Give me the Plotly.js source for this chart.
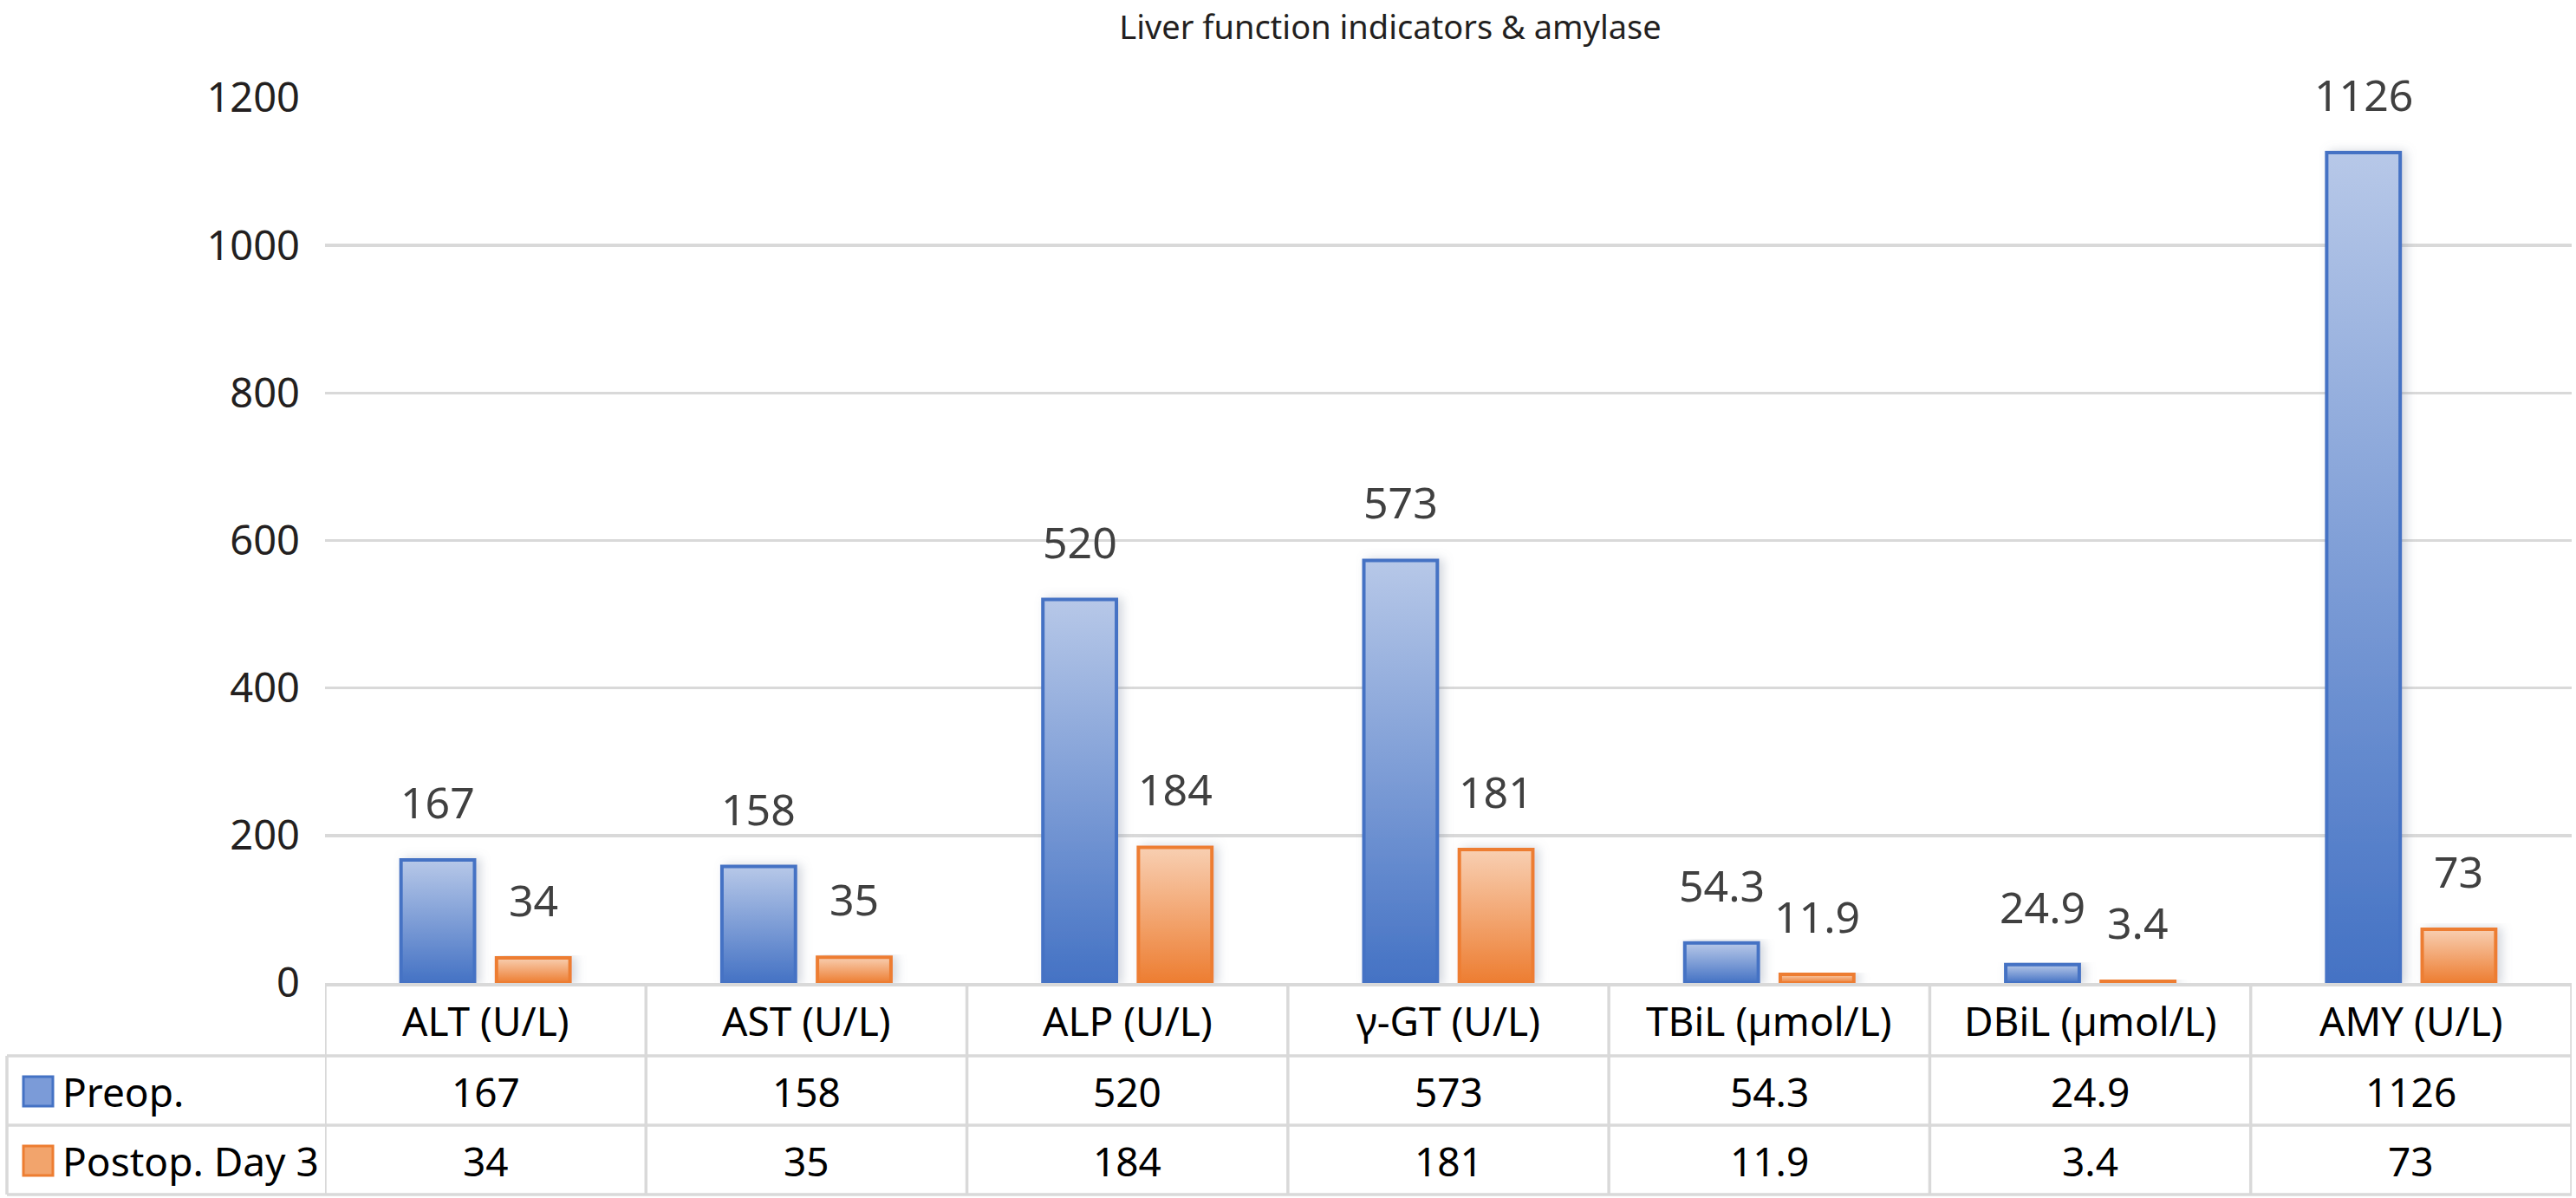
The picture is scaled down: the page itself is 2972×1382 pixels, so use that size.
<!DOCTYPE html>
<html><head><meta charset="utf-8">
<script src="https://cdn.plot.ly/plotly-3.0.1.min.js"></script>
<style>html,body{margin:0;padding:0;background:#fff;}#chart{width:2972px;height:1382px;}</style>
</head><body><div id="chart"></div>
<script>
// ---- data ----
const categories = ['ALT (U/L)', 'AST (U/L)', 'ALP (U/L)', 'γ-GT (U/L)', 'TBiL (µmol/L)', 'DBiL (µmol/L)', 'AMY (U/L)'];
const seriesNames = ['Preop.', 'Postop. Day 3'];
const preop = [167, 158, 520, 573, 54.3, 24.9, 1126];
const postop = [34, 35, 184, 181, 11.9, 3.4, 73];
const yTicks = [0, 200, 400, 600, 800, 1000, 1200];
const chartTitle = 'Liver function indicators & amylase';

// ---- layout geometry (pixels) ----
const W = 2972, H = 1382;
const L = 375, R = 5, T = 113, B = 248;
const plotW = W - L - R, plotH = H - T - B;
const FONT = 'Tahoma, "Noto Sans", "DejaVu Sans", sans-serif';
const GRID = '#d9d9d9';
function py(p) { return (H - B - p) / plotH; }   // pixel y -> paper y
function pxp(p) { return (p - L) / plotW; }      // pixel x -> paper x
const rowLines = [1218, 1298, 1378];
const rowCenters = [1177, 1259, 1339];
const tableLeft = 8;
const seriesValues = [preop, postop];
const colors = [
  { line: '#4472c4', top: '#b7c8e8', bottom: '#4472c4', mid: '#7b9bd8' },
  { line: '#ed7d31', top: '#f8cfb2', bottom: '#ed7d31', mid: '#f2a46c' }
];

const data = seriesValues.map((vals, s) => ({
  type: 'bar',
  name: seriesNames[s],
  x: categories,
  y: vals,
  marker: { color: colors[s].mid, line: { color: colors[s].line, width: 4 } },
  hoverinfo: 'skip',
  showlegend: false
}));

const shapes = [];
const annotations = [];
const lineStyle = { color: GRID, width: 3.5 };

// horizontal table lines
rowLines.forEach(r => shapes.push({ type: 'line', xref: 'paper', yref: 'paper', x0: pxp(tableLeft), x1: 1, y0: py(r), y1: py(r), line: lineStyle, layer: 'above' }));
// left outer border (legend column, lower two rows)
shapes.push({ type: 'line', xref: 'paper', yref: 'paper', x0: pxp(tableLeft), x1: pxp(tableLeft), y0: py(rowLines[0]), y1: py(rowLines[2]), line: lineStyle });
// vertical column borders
for (let i = 0; i <= categories.length; i++) {
  shapes.push({ type: 'line', xref: 'x', yref: 'paper', x0: i - 0.5, x1: i - 0.5, y0: 0, y1: py(rowLines[2]), line: lineStyle });
}
// legend keys
seriesNames.forEach((n, s) => {
  const c = rowCenters[s + 1];
  shapes.push({ type: 'rect', xref: 'paper', yref: 'paper', x0: pxp(27), x1: pxp(61), y0: py(c - 17), y1: py(c + 17),
    fillcolor: colors[s].mid, line: { color: colors[s].line, width: 3 } });
  annotations.push({ xref: 'paper', yref: 'paper', x: pxp(70), y: py(c), xanchor: 'left', yanchor: 'middle', showarrow: false,
    text: n, font: { family: FONT, size: 46, color: '#000' } });
});
// category row + value rows
categories.forEach((c, i) => {
  annotations.push({ xref: 'x', yref: 'paper', x: c, y: py(rowCenters[0]), xanchor: 'center', yanchor: 'middle', showarrow: false,
    text: c, font: { family: FONT, size: 46, color: '#000' } });
  seriesValues.forEach((vals, s) => {
    annotations.push({ xref: 'x', yref: 'paper', x: c, y: py(rowCenters[s + 1]), xanchor: 'center', yanchor: 'middle', showarrow: false,
      text: String(vals[i]), font: { family: FONT, size: 46, color: '#000' } });
  });
});
// data labels above bars
const slotHalf = (1 - 0.405) * (plotW / categories.length) / 4;
seriesValues.forEach((vals, s) => {
  vals.forEach((v, i) => {
    annotations.push({ xref: 'x', yref: 'y', x: categories[i], y: v, xshift: s === 0 ? -slotHalf : slotHalf, yshift: 67,
      xanchor: 'center', yanchor: 'middle', showarrow: false, text: String(v),
      font: { family: FONT, size: 50, color: '#404040' } });
  });
});

const layout = {
  width: W, height: H,
  margin: { l: L, r: R, t: T, b: B },
  paper_bgcolor: '#fff', plot_bgcolor: '#fff',
  barmode: 'group', bargap: 0.405, bargroupgap: 0.23,
  title: { text: chartTitle, font: { family: FONT, size: 38, color: '#231f20' },
    xref: 'container', yref: 'container', x: 1604 / W, y: 1 - 32 / H, xanchor: 'center', yanchor: 'middle' },
  xaxis: { type: 'category', range: [-0.5, categories.length - 0.5], showticklabels: false, ticks: '',
    showgrid: false, showline: true, linecolor: GRID, linewidth: 3.5, zeroline: false, fixedrange: true },
  yaxis: { range: [0, 1200], tickvals: yTicks, ticktext: yTicks.map(String), showgrid: true, gridcolor: GRID, gridwidth: 3.5,
    zeroline: false, showline: false, ticks: '', ticklabelstandoff: 28,
    tickfont: { family: FONT, size: 47, color: '#231f20' }, fixedrange: true },
  shapes: shapes,
  annotations: annotations
};

Plotly.newPlot('chart', data, layout, { staticPlot: true, displayModeBar: false }).then(gd => {
  const svg = gd.querySelector('svg.main-svg');
  const NS = 'http://www.w3.org/2000/svg';
  let defs = svg.querySelector('defs');
  if (!defs) { defs = document.createElementNS(NS, 'defs'); svg.insertBefore(defs, svg.firstChild); }
  colors.forEach((c, s) => {
    const g = document.createElementNS(NS, 'linearGradient');
    g.setAttribute('id', 'barGrad' + s);
    g.setAttribute('x1', '0'); g.setAttribute('y1', '0'); g.setAttribute('x2', '0'); g.setAttribute('y2', '1');
    [[0, c.top], [1, c.bottom]].forEach(([o, col]) => {
      const st = document.createElementNS(NS, 'stop');
      st.setAttribute('offset', o); st.setAttribute('stop-color', col);
      g.appendChild(st);
    });
    defs.appendChild(g);
  });
  const f = document.createElementNS(NS, 'filter');
  f.setAttribute('id', 'barShadow'); f.setAttribute('x', '-30%'); f.setAttribute('y', '-10%'); f.setAttribute('width', '170%'); f.setAttribute('height', '120%');
  const ds = document.createElementNS(NS, 'feDropShadow');
  ds.setAttribute('dx', '5'); ds.setAttribute('dy', '0'); ds.setAttribute('stdDeviation', '6');
  ds.setAttribute('flood-color', '#7f8aa0'); ds.setAttribute('flood-opacity', '0.35');
  f.appendChild(ds); defs.appendChild(f);
  const traces = gd.querySelectorAll('.barlayer .trace');
  traces.forEach((t, s) => {
    t.querySelectorAll('path').forEach(p => { p.style.fill = 'url(#barGrad' + s + ')'; p.setAttribute('filter', 'url(#barShadow)'); });
  });
});
</script>
</body></html>
